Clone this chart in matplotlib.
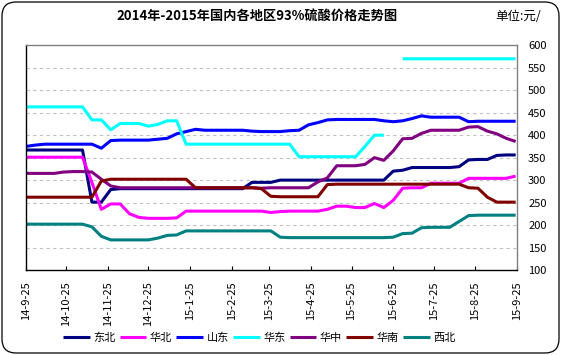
import matplotlib
matplotlib.use("Agg")
import matplotlib.pyplot as plt
import matplotlib.dates as mdates
from matplotlib.patches import FancyBboxPatch
import numpy as np
import pandas as pd

plt.rcParams['font.family'] = ['Noto Sans CJK SC', 'DejaVu Sans']

dates = pd.date_range('2014-09-25', periods=53, freq='7D')

dongbei = [367, 367, 367, 367, 367, 367, 367, 251, 251, 279,
           281, 281, 281, 281, 281, 281, 281, 281, 281, 281,
           281, 281, 281, 281, 295, 295, 295, 300, 300, 300,
           300, 300, 300, 300, 300, 300, 300, 300, 300, 320,
           322, 328, 328, 328, 328, 328, 330, 345, 346, 346,
           355, 356, 356]
huabei = [351, 351, 351, 351, 351, 351, 351, 295, 235, 247,
          247, 225, 217, 215, 215, 215, 216, 231, 231, 231,
          231, 231, 231, 231, 231, 231, 228, 230, 231, 231,
          231, 231, 235, 242, 242, 239, 239, 248, 239, 255,
          282, 283, 283, 293, 293, 293, 293, 304, 304, 304,
          304, 304, 309]
shandong = [375, 378, 380, 380, 380, 380, 380, 380, 371, 388,
            389, 389, 389, 389, 391, 393, 403, 408, 413, 411,
            411, 411, 411, 411, 409, 408, 408, 408, 410, 411,
            423, 428, 434, 435, 435, 435, 435, 435, 432, 430,
            432, 437, 443, 440, 440, 440, 440, 430, 431, 431,
            431, 431, 431]
huadong = [463, 463, 463, 463, 463, 463, 463, 434, 434, 412,
           426, 426, 426, 420, 424, 432, 432, 380, 380, 380,
           380, 380, 380, 380, 380, 380, 380, 380, 380, 352,
           352, 352, 352, 352, 352, 352, 375, 400, 400, np.nan,
           570, 570, 570, 570, 570, 570, 570, 570, 570, 570,
           570, 570, 570]
huazhong = [315, 315, 315, 315, 318, 319, 319, 318, 302, 287,
            283, 283, 283, 283, 283, 283, 283, 283, 283, 283,
            283, 283, 283, 283, 283, 282, 283, 283, 283, 283,
            283, 296, 305, 332, 332, 332, 335, 350, 344, 365,
            392, 393, 404, 411, 411, 411, 411, 418, 419, 409,
            403, 393, 386]
huanan = [262, 262, 262, 262, 262, 262, 262, 262, 298, 302,
          302, 302, 302, 302, 302, 302, 302, 302, 283, 283,
          283, 283, 283, 283, 283, 281, 264, 263, 263, 263,
          263, 263, 290, 291, 291, 291, 291, 291, 291, 291,
          291, 291, 291, 291, 291, 291, 291, 283, 282, 262,
          251, 251, 251]
xibei = [202, 202, 202, 202, 202, 202, 202, 196, 175, 167,
         167, 167, 167, 167, 171, 177, 178, 187, 187, 187,
         187, 187, 187, 187, 187, 187, 187, 173, 172, 172,
         172, 172, 172, 172, 172, 172, 172, 172, 172, 173,
         181, 182, 194, 195, 195, 195, 208, 221, 222, 222,
         222, 222, 222]

series_names = ['东北', '华北', '山东', '华东', '华中', '华南', '西北']
series_values = [dongbei, huabei, shandong, huadong, huazhong, huanan, xibei]
colors = ['#000080', '#FF00FF', '#0000FF', '#00FFFF', '#800080', '#800000', '#008080']

title = '2014年-2015年国内各地区93%硫酸价格走势图'
unit = '单位:元/'
yticks = [100, 150, 200, 250, 300, 350, 400, 450, 500, 550, 600]
xtick_dates = pd.date_range('2014-09-25', '2015-09-25', freq='MS') + pd.Timedelta(days=24)
xtick_dates = [pd.Timestamp('2014-09-25')] + list(xtick_dates)

fig = plt.figure(figsize=(5.61, 3.55), dpi=100)
fig.patch.set_facecolor('white')
border = FancyBboxPatch((2 / 561, 2 / 355), 1 - 4 / 561, 1 - 4 / 355,
                        boxstyle='round,pad=0,rounding_size=0.025',
                        transform=fig.transFigure, fill=False,
                        edgecolor='black', linewidth=0.9, mutation_aspect=561 / 355)
fig.patches.append(border)

ax = fig.add_axes([26 / 561, 1 - 270 / 355, 491 / 561, (270 - 45.3) / 355])

for name, vals, c in zip(series_names, series_values, colors):
    ax.plot(dates, vals, color=c, linewidth=2.2, label=name, solid_capstyle='butt')

ax.set_xlim(pd.Timestamp('2014-09-25'), pd.Timestamp('2015-09-25'))
ax.set_ylim(100, 600)
ax.set_yticks(yticks)
ax.yaxis.tick_right()
ax.tick_params(axis='y', length=0, pad=8, labelsize=8)
ax.set_xticks(xtick_dates)
ax.set_xticklabels([f"{d.year % 100}-{d.month}-{d.day}" for d in xtick_dates],
                   rotation=90, fontsize=8)
ax.tick_params(axis='x', direction='in', length=3, width=0.8, pad=8)

for v in yticks[1:-1]:
    ax.axhline(v, color='#C0C0C0', linewidth=0.8, linestyle=(0, (3, 3)), zorder=0)

ax.spines['left'].set_color('black')
ax.spines['bottom'].set_color('black')
ax.spines['top'].set_color('#808080')
ax.spines['right'].set_color('#808080')
for s in ax.spines.values():
    s.set_linewidth(1.0)

fig.text(0.458, 0.955, title, ha='center', va='center', fontsize=9.5, fontweight='bold')
fig.text(495 / 561, 0.953, unit, ha='left', va='center', fontsize=9)

fig.legend(loc='center', bbox_to_anchor=(0.462, 0.048), ncol=7, frameon=False,
           fontsize=8, handlelength=2.4, handletextpad=0.3, columnspacing=0.4)

fig.savefig('out.png', dpi=100)
